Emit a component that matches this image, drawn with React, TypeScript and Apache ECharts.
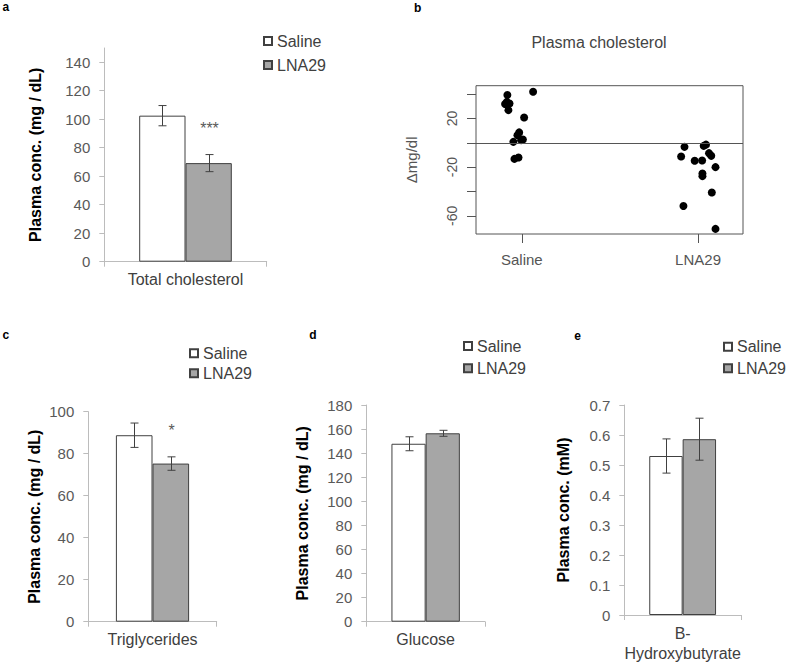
import React, { useEffect, useRef } from "react";
import * as echarts from "echarts";

// ---------- data ----------
const GROUPS = ["Saline", "LNA29"];

// a: total cholesterol
const cholCategory = ["Total cholesterol"];
const cholMean = [102.5, 69.2];
const cholErr = [7.1, 6.0];
const cholSig = ["", "***"];
const cholTicks = [0, 20, 40, 60, 80, 100, 120, 140];

// b: plasma cholesterol change (jittered dot plot)
const deltaTitle = "Plasma cholesterol";
const deltaAxisName = "Δmg/dl";
const salineDelta = [
  [0.918, 39.3], [0.915, 33.7], [0.905, 31.9], [0.93, 32.4], [0.924, 26.9],
  [1.064, 42.0], [1.013, 20.9], [0.985, 8.6], [0.975, 6.3], [0.996, 2.2],
  [0.952, 0.8], [1.006, 2.8], [0.958, -13.2], [0.981, -12.0],
];
const lnaDelta = [
  [1.923, -3.3], [1.904, -11.2], [2.032, -2.5], [2.045, -1.5], [2.062, -8.5],
  [2.075, -10.7], [1.981, -14.8], [2.023, -14.5], [2.099, -20.0], [2.025, -25.2],
  [2.025, -27.4], [2.078, -40.8], [1.917, -51.9], [2.099, -70.8],
];
const deltaTicks = [-60, -40, -20, 0, 20, 40];
const deltaTickLabels = [-60, -20, 20];
const deltaXTicks = [1, 2];

// c: triglycerides
const tgCategory = ["Triglycerides"];
const tgMean = [88.8, 75.3];
const tgErr = [5.8, 3.2];
const tgSig = ["", "*"];

// d: glucose
const gluCategory = ["Glucose"];
const gluMean = [147.8, 156.5];
const gluErr = [5.8, 2.5];
const gluSig = ["", ""];

// e: B-hydroxybutyrate
const bhbCategory = ["B-\nHydroxybutyrate"];
const bhbMean = [0.53, 0.586];
const bhbErr = [0.057, 0.07];
const bhbSig = ["", ""];

// ---------- styles ----------
const FONT = '"Liberation Sans", Arial, Helvetica, sans-serif';
const AXIS = "#bcbcbc";
const FILLS = ["#ffffff", "#a6a6a6"];
const EDGE = "#404040";
const RGRAY = "#555555";

function catXAxis(gridIndex: number, data: string[]) {
  return {
    gridIndex,
    type: "category",
    data,
    axisLine: { show: true, onZero: false, lineStyle: { color: AXIS, width: 1 } },
    axisTick: { show: true, length: 5, lineStyle: { color: AXIS } },
    axisLabel: { fontSize: 16, color: EDGE, margin: 8, lineHeight: 20, fontFamily: FONT },
    splitLine: { show: false },
  };
}

function valYAxis(gridIndex: number, max: number, interval: number, name: string, nameGap: number, ticks?: number[]) {
  const ax: any = {
    gridIndex,
    type: "value",
    min: 0,
    max,
    interval,
    name,
    nameLocation: "middle",
    nameGap,
    nameTextStyle: { fontSize: 16, fontWeight: "bold", color: "#000", fontFamily: FONT },
    axisLine: { show: true, onZero: false, lineStyle: { color: AXIS, width: 1 } },
    axisTick: { show: true, length: 5, lineStyle: { color: AXIS } },
    axisLabel: { fontSize: 15, color: "#595959", margin: 14, fontFamily: FONT },
    splitLine: { show: false },
  };
  if (ticks) {
    ax.axisTick.customValues = ticks;
    ax.axisLabel.customValues = ticks;
  }
  return ax;
}

function barPair(gridIndex: number, means: number[], bw: number) {
  return GROUPS.map((g, i) => ({
    type: "bar",
    name: g,
    xAxisIndex: gridIndex,
    yAxisIndex: gridIndex,
    data: [means[i]],
    barWidth: bw,
    barGap: "0%",
    itemStyle: { color: FILLS[i], borderColor: EDGE, borderWidth: 1 },
    emphasis: { disabled: true },
  }));
}

function errorSeries(gridIndex: number, means: number[], errs: number[], sig: string[], bw: number) {
  return {
    type: "custom",
    name: "err" + gridIndex,
    xAxisIndex: gridIndex,
    yAxisIndex: gridIndex,
    z: 5,
    silent: true,
    data: means.map((m, i) => [0, m, errs[i], i]),
    renderItem: (params: any, api: any) => {
      const m = api.value(1);
      const e = api.value(2);
      const side = api.value(3);
      const c = api.coord([0, m]);
      const x = Math.round(c[0] + (side - 0.5) * bw) + 0.5;
      const yT = api.coord([0, m + e])[1];
      const yB = api.coord([0, m - e])[1];
      const st = { stroke: EDGE, lineWidth: 1 };
      const children: any[] = [
        { type: "line", shape: { x1: x, y1: yT, x2: x, y2: yB }, style: st },
        { type: "line", shape: { x1: x - 4, y1: yT, x2: x + 4, y2: yT }, style: st },
        { type: "line", shape: { x1: x - 4, y1: yB, x2: x + 4, y2: yB }, style: st },
      ];
      if (sig[side]) {
        children.push({
          type: "text",
          x,
          y: yT - 26,
          style: { text: sig[side], fill: "#595959", font: `16px ${FONT}`, align: "center", verticalAlign: "middle" },
        });
      }
      return { type: "group", children };
    },
  };
}

function legendAt(left: number, top: number, gap: number) {
  return {
    left,
    top,
    padding: 0,
    orient: "vertical",
    data: GROUPS,
    icon: "rect",
    itemWidth: 8,
    itemHeight: 8,
    itemGap: gap,
    selectedMode: false,
    textStyle: { fontSize: 16, color: EDGE, lineHeight: 20, fontFamily: FONT },
  };
}

function panelLetter(text: string, x: number, y: number) {
  return {
    type: "text",
    x,
    y,
    style: { text, font: `bold 12px ${FONT}`, fill: "#000", verticalAlign: "middle", align: "left" },
  };
}

export default function App() {
  const ref = useRef<HTMLDivElement>(null);
  useEffect(() => {
    if (!ref.current) return;
    const chart = echarts.init(ref.current, null, { renderer: "svg" });
    const option: any = {
      animation: false,
      backgroundColor: "#ffffff",
      textStyle: { fontFamily: FONT },
      grid: [
        { left: 104.3, top: 48, width: 162.4, height: 213.7 },
        { left: 476, top: 85.7, width: 267, height: 148.3, show: true, borderColor: RGRAY, borderWidth: 1 },
        { left: 88.3, top: 411.7, width: 128.4, height: 210 },
        { left: 366.3, top: 405, width: 118.7, height: 216.7 },
        { left: 624.3, top: 405, width: 116.7, height: 210.7 },
      ],
      legend: [legendAt(263, 31, 4), legendAt(189, 343.3, 0), legendAt(463, 336, 2.3), legendAt(723, 336.7, 1.6)],
      xAxis: [
        catXAxis(0, cholCategory),
        {
          gridIndex: 1,
          type: "value",
          min: 0.74,
          max: 2.255,
          axisLine: { show: false, onZero: false },
          splitLine: { show: false },
          axisTick: { show: true, length: 9, customValues: deltaXTicks, lineStyle: { color: RGRAY } },
          axisLabel: {
            customValues: deltaXTicks,
            formatter: (v: number) => GROUPS[Math.round(v) - 1],
            fontSize: 15,
            color: RGRAY,
            margin: 18,
            fontFamily: FONT,
          },
        },
        catXAxis(2, tgCategory),
        catXAxis(3, gluCategory),
        catXAxis(4, bhbCategory),
      ],
      yAxis: [
        valYAxis(0, 150, 20, "Plasma conc. (mg / dL)", 61, cholTicks),
        {
          gridIndex: 1,
          type: "value",
          min: -75,
          max: 47,
          name: deltaAxisName,
          nameLocation: "middle",
          nameGap: 57,
          nameTextStyle: { fontSize: 15, color: RGRAY, fontFamily: FONT },
          axisLine: { show: false, onZero: false },
          splitLine: { show: false },
          axisTick: { show: true, length: 9, customValues: deltaTicks, lineStyle: { color: RGRAY } },
          axisLabel: {
            customValues: deltaTickLabels,
            rotate: 90,
            fontSize: 14,
            color: RGRAY,
            margin: 17,
            fontFamily: FONT,
          },
        },
        valYAxis(2, 100, 20, "Plasma conc. (mg / dL)", 46),
        valYAxis(3, 180, 20, "Plasma conc. (mg / dL)", 56),
        valYAxis(4, 0.7, 0.1, "Plasma conc. (mM)", 53),
      ],
      series: [
        ...barPair(0, cholMean, 46.3),
        errorSeries(0, cholMean, cholErr, cholSig, 46.3),
        {
          type: "scatter",
          name: "Saline Δ",
          xAxisIndex: 1,
          yAxisIndex: 1,
          data: salineDelta,
          symbolSize: 8,
          itemStyle: { color: "#000", opacity: 1 },
          emphasis: { disabled: true },
          markLine: {
            silent: true,
            symbol: ["none", "none"],
            label: { show: false },
            lineStyle: { color: RGRAY, type: "solid", width: 1 },
            data: [{ yAxis: 0 }],
          },
        },
        {
          type: "scatter",
          name: "LNA29 Δ",
          xAxisIndex: 1,
          yAxisIndex: 1,
          data: lnaDelta,
          symbolSize: 8,
          itemStyle: { color: "#000", opacity: 1 },
          emphasis: { disabled: true },
        },
        ...barPair(2, tgMean, 36.6),
        errorSeries(2, tgMean, tgErr, tgSig, 36.6),
        ...barPair(3, gluMean, 34.2),
        errorSeries(3, gluMean, gluErr, gluSig, 34.2),
        ...barPair(4, bhbMean, 33.4),
        errorSeries(4, bhbMean, bhbErr, bhbSig, 33.4),
      ],
      graphic: [
        panelLetter("a", 2.5, 7),
        panelLetter("b", 414, 7.5),
        panelLetter("c", 2.5, 335),
        panelLetter("d", 309.3, 335),
        panelLetter("e", 574.3, 336),
        {
          type: "text",
          x: 599,
          y: 42,
          style: { text: deltaTitle, font: `16px ${FONT}`, fill: "#444", align: "center", verticalAlign: "middle" },
        },
      ],
    };
    chart.setOption(option);
    return () => chart.dispose();
  }, []);
  return (
    <div
      ref={ref}
      style={{ position: "absolute", left: 0, top: 0, width: 787, height: 663 }}
    />
  );
}
